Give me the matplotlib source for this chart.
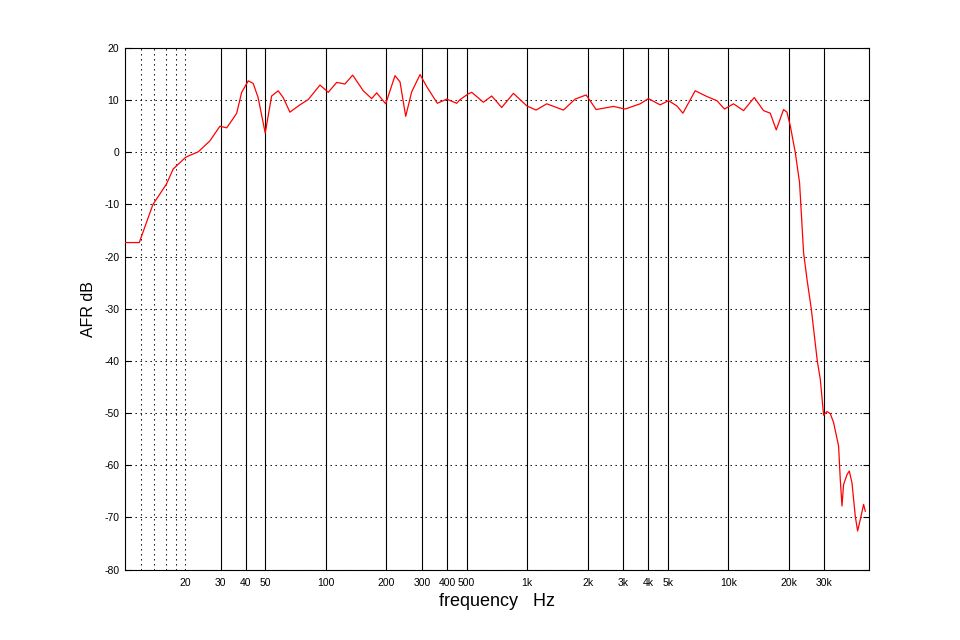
import numpy as np
import matplotlib.pyplot as plt

# frequency response
freq = [10, 11.8, 13.8, 16.1, 17.4, 20.0, 20.7, 23.2, 26.5, 29.7, 32.1, 34.6,
        36.0, 38.1, 41.1, 43.5, 46.0, 49.9, 53.7, 57.9, 61.3, 66.2, 74.2,
        81.6, 93.4, 102.7, 113, 124.3, 135.8, 153.3, 168.8, 178.7, 198.2,
        220.5, 233.5, 249.2, 266.9, 293.7, 317, 357.9, 398.6, 446.9, 464,
        510, 531, 606, 667, 748, 855, 997, 1108, 1253, 1516, 1733, 1966,
        2204, 2688, 3073, 3650, 4013, 4588, 5047, 5556, 5952, 6851, 7834,
        8785, 9585, 10626, 11917, 13472, 14983, 16182, 17335, 18843, 19588,
        20347, 21544, 22632, 23081, 23693, 24636, 25880, 27726, 28693,
        29800, 30975, 32167, 33405, 35377, 36068, 36780, 37458, 38946,
        39994, 41250, 42837, 43986, 45366, 47114, 48045]
afr = [-17.3, -17.3, -10.0, -6.1, -3.2, -1.0, -0.7, 0.1, 2.2, 5.0, 4.7, 6.5,
       7.5, 11.5, 13.7, 13.2, 10.5, 3.7, 10.8, 11.8, 10.5, 7.7, 9.1,
       10.1, 12.9, 11.5, 13.4, 13.1, 14.8, 11.8, 10.3, 11.4, 9.3,
       14.7, 13.5, 6.9, 11.6, 14.9, 12.6, 9.4, 10.2, 9.4, 10.1,
       11.2, 11.5, 9.6, 10.8, 8.6, 11.3, 8.9, 8.1, 9.3, 8.1, 10.2, 11.0,
       8.2, 8.8, 8.3, 9.3, 10.3, 9.1, 9.9, 8.9, 7.5, 11.8, 10.7,
       9.9, 8.3, 9.3, 8.0, 10.5, 8.0, 7.5, 4.3, 8.2, 7.7,
       5.1, 0.0, -5.8, -11.5, -19.2, -24.3, -30.0, -40.0, -43.5,
       -50.4, -49.7, -50.1, -51.8, -56.3, -62.7, -67.8, -63.7, -61.8,
       -61.1, -63.4, -69.8, -72.6, -70.4, -67.5, -68.8]

xticks = [20, 30, 40, 50, 100, 200, 300, 400, 500, 1000, 2000, 3000, 4000,
          5000, 10000, 20000, 30000]
xticklabels = ['20', '30', '40', '50', '100', '200', '300', '400', '500',
               '1k', '2k', '3k', '4k', '5k', '10k', '20k', '30k']
solid_lines = [30, 40, 50, 100, 200, 300, 400, 500, 1000, 2000, 3000, 4000,
               5000, 10000, 20000, 30000]
dotted_lines = [12, 14, 16, 18, 20]
yticks = list(range(-80, 21, 10))

plt.rcParams['font.family'] = ['Liberation Sans', 'DejaVu Sans']
plt.rcParams['axes.unicode_minus'] = False

fig = plt.figure(figsize=(9.6, 6.4), dpi=100)
ax = fig.add_axes([0.13, 0.11, 0.775, 0.815])

dots = (0, (1.3, 3.5))
for y in yticks:
    ax.axhline(y, color='k', lw=0.75, ls=dots, zorder=1)
for x in dotted_lines:
    ax.axvline(x, color='k', lw=0.75, ls=dots, zorder=1)
for x in solid_lines:
    ax.axvline(x, color='k', lw=0.8, zorder=1)

ax.plot(freq, afr, color='red', lw=0.9, zorder=3)

ax.set_xscale('log')
ax.set_xlim(10, 50000)
ax.set_ylim(-80, 20)
ax.set_xticks(xticks)
ax.set_xticklabels(xticklabels)
ax.xaxis.set_minor_locator(plt.NullLocator())
ax.set_yticks(yticks)
ax.tick_params(axis='x', length=0, pad=6, labelsize=7.5)
ax.tick_params(axis='y', direction='in', length=4, width=0.8, right=True,
               pad=4, labelsize=7.5)
for s in ax.spines.values():
    s.set_linewidth(0.8)

ax.set_xlabel('frequency   Hz', fontsize=13, labelpad=4)
ax.set_ylabel('AFR dB', fontsize=11.5, labelpad=6)

plt.savefig('out.png', dpi=100)
